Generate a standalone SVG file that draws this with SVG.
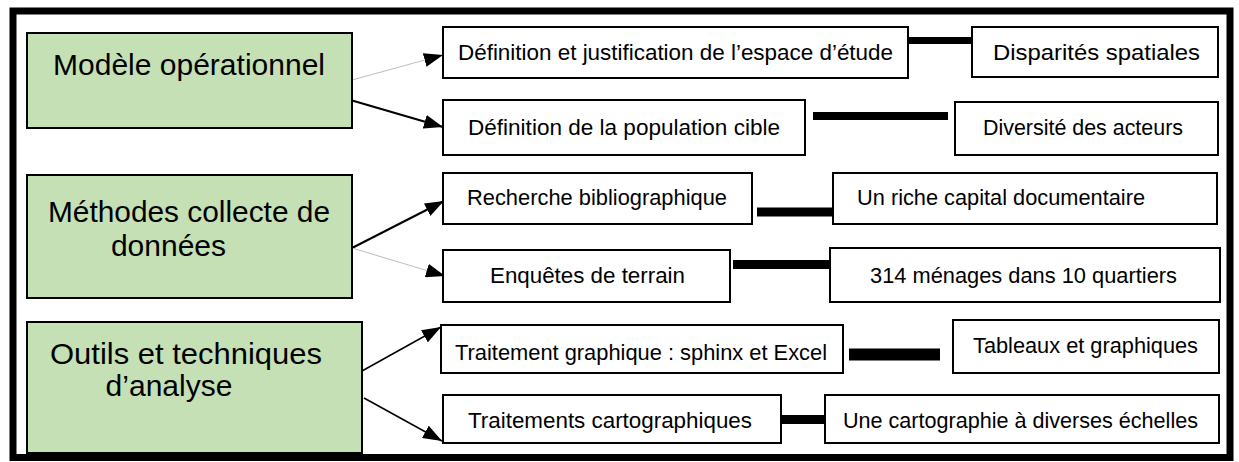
<svg xmlns="http://www.w3.org/2000/svg" width="1239" height="462" viewBox="0 0 1239 462">
<style>
.frame{fill:none;stroke:#000;stroke-width:7}
.cat{fill:#C5E0B4;stroke:#000;stroke-width:2}
.box{fill:#fff;stroke:#000;stroke-width:2}
.big{font-family:"Liberation Sans",Arial,sans-serif;font-size:30px;fill:#000}
.sm{font-family:"Liberation Sans",Arial,sans-serif;font-size:22px;fill:#000}
.thin{stroke:#BDBDBD;stroke-width:1;fill:none}
.dark{stroke:#000;stroke-width:2;fill:none}
.bar{stroke:#000;fill:none}
</style>
<defs>
<marker id="ah" markerUnits="userSpaceOnUse" markerWidth="19" markerHeight="14" refX="19" refY="7" orient="auto">
<path d="M0,0 L19,7 L0,14 z" fill="#000"/>
</marker>
</defs>
<rect width="1239" height="462" fill="#fff"/>
<rect class="frame" x="13" y="11" width="1217" height="446.5"/>

<g id="connectors">
<line class="thin" x1="352" y1="80" x2="443" y2="55" marker-end="url(#ah)"/>
<line class="dark" x1="347" y1="99" x2="443" y2="127" marker-end="url(#ah)"/>
<line class="dark" x1="352" y1="248" x2="444" y2="201" marker-end="url(#ah)"/>
<line class="thin" x1="352" y1="248" x2="445" y2="276" marker-end="url(#ah)"/>
<line class="dark" x1="362" y1="371" x2="441" y2="327" marker-end="url(#ah)" style="stroke-width:1.5"/>
<line class="dark" x1="364" y1="398" x2="442" y2="441" marker-end="url(#ah)" style="stroke-width:1.5"/>
<line class="bar" x1="908" y1="40.5" x2="973" y2="40.5" stroke-width="7"/>
<line class="bar" x1="813" y1="116" x2="948" y2="116" stroke-width="8"/>
<line class="bar" x1="757" y1="212" x2="833" y2="212" stroke-width="9"/>
<line class="bar" x1="733" y1="264.5" x2="830" y2="264.5" stroke-width="9"/>
<line class="bar" x1="849" y1="354.5" x2="940" y2="354.5" stroke-width="12"/>
<line class="bar" x1="775" y1="419.5" x2="828" y2="419.5" stroke-width="9" stroke-linecap="round"/>
</g>

<g id="modele">
<rect class="cat" x="27" y="33" width="325" height="95"/>
<text class="big" x="53" y="75" textLength="272" lengthAdjust="spacingAndGlyphs">Modèle opérationnel</text>
</g>
<g id="methodes">
<rect class="cat" x="27" y="175" width="325" height="123"/>
<text class="big" x="48" y="222" textLength="282" lengthAdjust="spacingAndGlyphs">Méthodes collecte de</text>
<text class="big" x="168.5" y="256" text-anchor="middle">données</text>
</g>
<g id="outils">
<rect class="cat" x="27" y="322" width="335" height="131"/>
<text class="big" x="50" y="364" textLength="272" lengthAdjust="spacingAndGlyphs">Outils et techniques</text>
<text class="big" x="169" y="396" text-anchor="middle">d’analyse</text>
</g>

<g id="espace">
<rect class="box" x="443" y="27" width="465" height="51"/>
<text class="sm" x="458" y="60" textLength="435" lengthAdjust="spacingAndGlyphs">Définition et justification de l’espace d’étude</text>
</g>
<g id="disparites">
<rect class="box" x="972" y="27" width="246" height="50"/>
<text class="sm" x="993" y="60" textLength="207" lengthAdjust="spacingAndGlyphs">Disparités spatiales</text>
</g>
<g id="population">
<rect class="box" x="443" y="100" width="362" height="55"/>
<text class="sm" x="468" y="135" textLength="312" lengthAdjust="spacingAndGlyphs">Définition de la population cible</text>
</g>
<g id="diversite">
<rect class="box" x="955" y="102" width="263" height="53"/>
<text class="sm" x="983" y="135" textLength="200" lengthAdjust="spacingAndGlyphs">Diversité des acteurs</text>
</g>
<g id="recherche">
<rect class="box" x="443" y="173" width="309" height="51"/>
<text class="sm" x="467" y="205" textLength="260" lengthAdjust="spacingAndGlyphs">Recherche bibliographique</text>
</g>
<g id="capital">
<rect class="box" x="833" y="173" width="384" height="51"/>
<text class="sm" x="857" y="205" textLength="288" lengthAdjust="spacingAndGlyphs">Un riche capital documentaire</text>
</g>
<g id="enquetes">
<rect class="box" x="443" y="250" width="287" height="52"/>
<text class="sm" x="490" y="283" textLength="195" lengthAdjust="spacingAndGlyphs">Enquêtes de terrain</text>
</g>
<g id="menages">
<rect class="box" x="830" y="248" width="390" height="54"/>
<text class="sm" x="870" y="283" textLength="307" lengthAdjust="spacingAndGlyphs">314 ménages dans 10 quartiers</text>
</g>
<g id="traitement">
<rect class="box" x="441" y="325" width="402" height="48"/>
<text class="sm" x="455" y="360" textLength="372" lengthAdjust="spacingAndGlyphs">Traitement graphique : sphinx et Excel</text>
</g>
<g id="tableaux">
<rect class="box" x="953" y="320" width="266" height="53"/>
<text class="sm" x="973" y="353" textLength="225" lengthAdjust="spacingAndGlyphs">Tableaux et graphiques</text>
</g>
<g id="cartographiques">
<rect class="box" x="443" y="395" width="338" height="48"/>
<text class="sm" x="468" y="428" textLength="284" lengthAdjust="spacingAndGlyphs">Traitements cartographiques</text>
</g>
<g id="echelles">
<rect class="box" x="825" y="395" width="394" height="48"/>
<text class="sm" x="843" y="428" textLength="355" lengthAdjust="spacingAndGlyphs">Une cartographie à diverses échelles</text>
</g>
</svg>
